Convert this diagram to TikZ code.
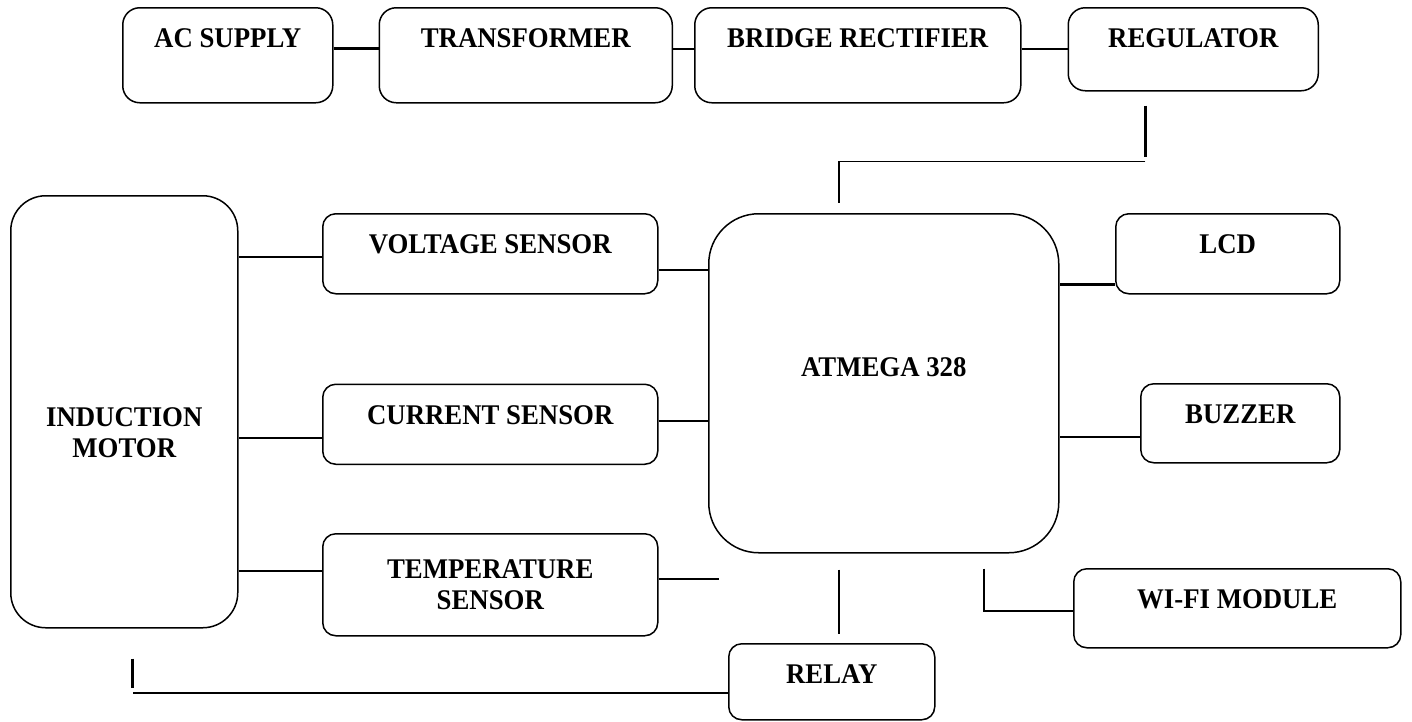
\documentclass[tikz,border=0pt]{standalone}
\usepackage{fontspec}
\setmainfont{Liberation Serif}[FakeStretch=0.94]
\usetikzlibrary{positioning}

\begin{document}
\begin{tikzpicture}[x=1pt,y=-1pt,font=\fontsize{28.5}{31.5}\selectfont\bfseries,
   blk/.style={draw,line width=1.5pt,rounded corners=13pt,inner sep=0pt,
               text height=40pt,text depth=#1,anchor=north west},
   blk/.default=40pt,
   sup/.style={blk=#1,rounded corners=17pt},
   sup/.default=55pt,
   tall/.style={draw,line width=1.5pt,align=center,inner sep=0pt},
   wire/.style={line width=1.7pt},
   bus/.style={line width=3pt}]
  \useasboundingbox (0,0) rectangle (1412,721);
  % power supply row
  \node[sup,minimum width=210pt] (ac) at (122,7) {AC SUPPLY};
  \node[sup,minimum width=293pt,right=45pt of ac] (trans) {TRANSFORMER};
  \node[sup,minimum width=326pt,right=21pt of trans] (bridge) {BRIDGE RECTIFIER};
  \node[sup=43pt,minimum width=250pt,right=46pt of bridge.north east,anchor=north west] (reg) {REGULATOR};
  % motor and sensors
  \node[tall,rounded corners=35pt,minimum width=227pt,text height=262pt,text depth=170pt,
        anchor=north west] (motor) at (10,195) {INDUCTION\\MOTOR};
  \node[blk,minimum width=335pt] (volt) at (322,213) {VOLTAGE SENSOR};
  \node[blk,minimum width=335pt,below=89pt of volt] (cur) {CURRENT SENSOR};
  \node[tall,rounded corners=13pt,minimum width=335pt,minimum height=102pt,
        below=68pt of cur] (temp) {TEMPERATURE\\SENSOR};
  % controller and outputs
  \node[blk=176pt,rounded corners=50pt,text height=163pt,minimum width=350pt] (mcu) at (708,213) {ATMEGA 328};
  \node[blk,minimum width=224pt] (lcd) at (1115,213) {LCD};
  \node[blk=39pt,minimum width=199pt] (buz) at (1140,383) {BUZZER};
  \node[blk=39pt,minimum width=327pt] (wifi) at (1073,568) {WI-FI MODULE};
  \node[blk=36pt,minimum width=206pt] (relay) at (728,643) {RELAY};

  % supply links
  \draw[bus] ([yshift=6.5pt]ac.east) -- ([yshift=6.5pt]trans.west);
  \draw[wire] ([yshift=6.5pt]trans.east) -- ([yshift=6.5pt]bridge.west);
  \draw[wire] ([yshift=6.5pt]bridge.east) -- ([yshift=0.5pt]reg.west);
  \draw[bus] ([xshift=-48pt,yshift=-14pt]reg.south) coordinate (rs) -- ++(0,51);
  \draw[wire] (rs) ++(0,56) -| ([xshift=-45pt,yshift=10pt]mcu.north);
  % sensor links
  \draw[wire] ([yshift=-3pt]volt.west) coordinate (v) -- (v -| motor.east);
  \draw[wire] ([yshift=-14pt]cur.west) coordinate (c) -- (c -| motor.east);
  \draw[wire] ([yshift=14pt]temp.west) coordinate (t) -- (t -| motor.east);
  \draw[wire] ([yshift=-16pt]volt.east) coordinate (v) -- (v -| mcu.west);
  \draw[wire] ([yshift=3pt]cur.east) coordinate (c) -- (c -| mcu.west);
  \coordinate (tend) at ([xshift=11pt]mcu.south west);
  \draw[wire] ([yshift=6pt]temp.east) coordinate (t) -- (t -| tend);
  % output links
  \draw[bus] ([yshift=-31pt]lcd.west) coordinate (l) -- (l -| mcu.east);
  \draw[wire] ([yshift=-13.5pt]buz.west) coordinate (b) -- (b -| mcu.east);
  \draw[wire] ([xshift=100pt,yshift=-15pt]mcu.south) |- ([yshift=-2.5pt]wifi.west);
  % relay back to motor
  \draw[wire] ([xshift=-45pt,yshift=-16pt]mcu.south) -- ([xshift=7pt,yshift=9pt]relay.north);
  \draw[bus] ([xshift=8.5pt,yshift=-30pt]motor.south) coordinate (m) -- ++(0,29);
  \draw[wire] ([yshift=-11pt]relay.west) coordinate (r) -- (r -| m);
\end{tikzpicture}
\end{document}
